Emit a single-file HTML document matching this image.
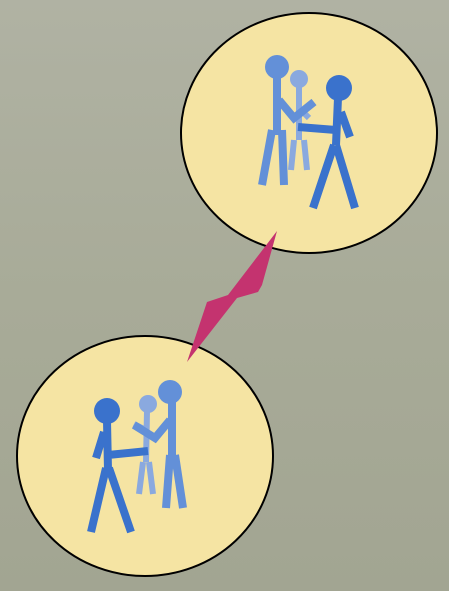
<!DOCTYPE html>
<html><head><meta charset="utf-8"><style>
html,body{margin:0;padding:0;width:449px;height:591px;overflow:hidden;background:#a9ab9a}
</style></head><body>
<svg width="449" height="591" viewBox="0 0 449 591">
<defs>
<linearGradient id="bg" x1="0" y1="0" x2="0" y2="1">
<stop offset="0" stop-color="#b0b2a3"/><stop offset="0.5" stop-color="#a8ab98"/><stop offset="1" stop-color="#a2a592"/>
</linearGradient>
</defs>
<rect width="449" height="591" fill="url(#bg)"/>
<g>
<ellipse cx="309" cy="133" rx="128" ry="120" fill="#f5e4a3" stroke="#000" stroke-width="2"/>
<g fill="#8aa9df" stroke="#8aa9df">
<circle cx="299" cy="79" r="9" stroke="none"/>
<path d="M299,86 L299,140 M294,140 L291,170 M304,140 L307,170 M299,108 L309,118" stroke-width="6" fill="none"/>
</g>
<g fill="#6390d8" stroke="#6390d8">
<circle cx="277" cy="67" r="12" stroke="none"/>
<path d="M277,76 L277,135 M272,130 L262,185 M282,130 L284,185 M279,100 L294,118 L314,102" stroke-width="8" fill="none"/>
</g>
<g fill="#3a72cc" stroke="#3a72cc">
<circle cx="339" cy="88" r="13" stroke="none"/>
<path d="M338,98 L336,145 M334,145 L313,208 M336,145 L355,208 M336,130 L298,127 M341,112 L350,137" stroke-width="8" fill="none"/>
</g>
</g>
<g>
<ellipse cx="145" cy="456" rx="128" ry="120" fill="#f5e4a3" stroke="#000" stroke-width="2"/>
<g fill="#8aa9df" stroke="#8aa9df">
<circle cx="148" cy="404" r="9" stroke="none"/>
<path d="M147,411 L146,462 M143,462 L139,494 M149,462 L153,494 M146,430 L134,424" stroke-width="6" fill="none"/>
</g>
<g fill="#6390d8" stroke="#6390d8">
<circle cx="170" cy="392" r="12" stroke="none"/>
<path d="M172,401 L172,458 M170,455 L166,508 M175,455 L183,508 M170,420 L155,438 L134,425" stroke-width="8" fill="none"/>
</g>
<g fill="#3a72cc" stroke="#3a72cc">
<circle cx="107" cy="411" r="13" stroke="none"/>
<path d="M107,421 L108,470 M106,468 L91,532 M109,468 L131,532 M108,455 L148,451 M104,432 L96,458" stroke-width="8" fill="none"/>
</g>
</g>
<polygon points="277,231 262,285 258,292 237,298 187,362 207,302 228,295" fill="#c4336f"/>
</svg>
</body></html>
